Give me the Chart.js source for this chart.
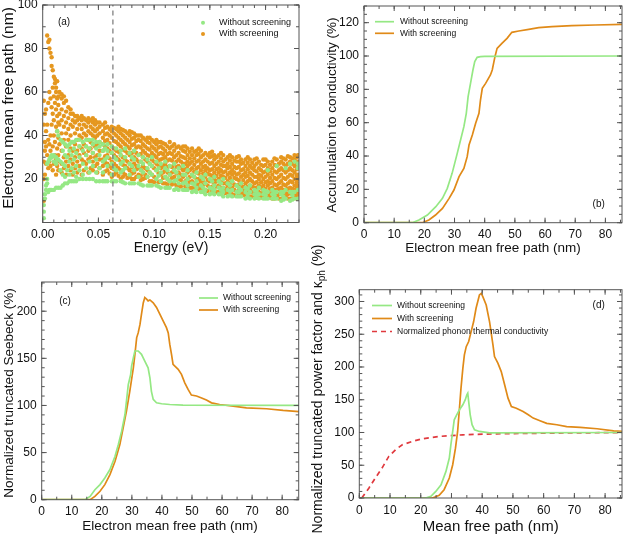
<!DOCTYPE html>
<html>
<head>
<meta charset="utf-8">
<script src="https://cdn.jsdelivr.net/npm/chart.js@4.4.1/dist/chart.umd.min.js"></script>
<style>
  html, body { margin: 0; padding: 0; background: #fff; }
  #wrap { position: relative; width: 624px; height: 536px; }
  #wrap canvas { position: absolute; left: 0; top: 0; }
</style>
</head>
<body>
<div id="wrap">
  <canvas id="panelA" width="624" height="536"></canvas>
  <canvas id="panelB" width="624" height="536"></canvas>
  <canvas id="panelC" width="624" height="536"></canvas>
  <canvas id="panelD" width="624" height="536"></canvas>
</div>
<script>
const GREEN = '#95e884';
const ORANGE = '#e5971f';
const ORANGE_LINE = '#e08a18';
const RED = '#e0393e';
const FONT = '"Liberation Sans", Arial, Helvetica, sans-serif';

const energyCut = 0.063;
const scatterWithout = [
  [0.001, [2, 5, 8]], [0.002, [11, 13]], [0.003, [15, 17]], [0.004, [18, 20, 27]],
  [0.005, [14, 28]], [0.006, [15, 29]], [0.007, [15, 30]], [0.008, [15, 30, 31]],
  [0.010, [15, 31, 28]], [0.012, [16, 30, 27]], [0.013, [42, 29]], [0.014, [16, 40, 29]],
  [0.016, [16, 38, 28, 24]], [0.018, [17, 37, 27, 22, 33]], [0.020, [18, 36, 26, 21, 31]],
  [0.022, [18, 35, 30, 24]], [0.024, [19, 36, 28, 22, 33]], [0.026, [19, 37, 31, 25]],
  [0.028, [19, 37, 29, 23, 34]], [0.030, [19, 38, 32, 26, 21]], [0.033, [20, 38, 30, 24, 35]],
  [0.036, [20, 37, 33, 27, 22]], [0.039, [20, 38, 31, 25, 35]], [0.042, [20, 38, 34, 28, 23]],
  [0.045, [20, 38, 32, 26, 36]], [0.048, [19, 37, 34, 29, 23]], [0.051, [19, 37, 31, 25, 35]],
  [0.054, [19, 36, 33, 28, 23]], [0.056, [19, 29, 34]], [0.058, [19, 36, 30, 26, 33]],
  [0.062, [19, 35, 32, 27, 22]], [0.064, [19, 30, 25]], [0.066, [19, 34, 29, 24]],
  [0.070, [19, 33, 27, 23, 31]], [0.072, [18.5, 28, 24]], [0.074, [18, 34, 30, 25]],
  [0.078, [18, 32, 27, 22]], [0.080, [18, 30, 26]], [0.082, [18, 33, 29, 24]],
  [0.086, [18, 31, 26, 21]], [0.088, [17.5, 28, 24]], [0.090, [17, 30, 27, 23]],
  [0.094, [17, 29, 25, 21]], [0.096, [17, 27, 23]], [0.098, [17, 30, 26, 22]],
  [0.102, [17, 28, 24, 20]], [0.104, [16.5, 21.5, 25]], [0.106, [16, 27, 23, 19]],
  [0.110, [16, 28, 25, 21]], [0.112, [16, 20, 24]], [0.114, [16, 26, 22, 19]],
  [0.118, [15, 27, 24, 19]], [0.120, [15.5, 19.5, 23]], [0.122, [15, 25, 21, 18]],
  [0.126, [15, 26, 22, 18]], [0.128, [15, 18.5, 22]], [0.130, [15, 24, 20, 17]],
  [0.134, [14, 22, 18]], [0.136, [14.5, 17.5, 21]], [0.138, [14, 23, 19, 16]],
  [0.142, [14, 21, 17]], [0.144, [14, 16, 20]], [0.146, [13, 22, 18, 15]],
  [0.150, [13, 20, 16]], [0.152, [13.5, 15.5, 19]], [0.154, [13, 21, 17, 15]],
  [0.158, [13, 19, 16]], [0.160, [13, 15, 18]], [0.162, [12, 20, 16, 14]],
  [0.166, [12, 18, 15]], [0.168, [12.5, 14.5, 17]], [0.170, [12, 19, 15]],
  [0.174, [12, 17, 14]], [0.176, [12, 14, 16]], [0.178, [12, 18, 15]],
  [0.182, [11, 16, 14]], [0.184, [11.5, 13, 15.5]], [0.186, [11, 17, 14]],
  [0.190, [11, 15, 13]], [0.192, [11.5, 13, 14.5]], [0.194, [11, 16, 13]],
  [0.198, [11, 15, 13]], [0.200, [11, 12.5, 14.5]], [0.202, [11, 14, 24]],
  [0.206, [11, 15, 13]], [0.208, [11, 12.5, 14]], [0.210, [11, 14, 26]],
  [0.214, [10, 14, 13]], [0.216, [10.5, 12, 14]], [0.218, [11, 15, 25]],
  [0.222, [10, 14, 27]], [0.224, [10.5, 12.5, 14]], [0.226, [11, 14, 28]],
  [0.229, [11, 15, 25, 27]]
];
const scatterWith = [
  [0.001, [10, 20, 28, 45, 56]], [0.002, [22, 33, 37, 50]], [0.003, [27, 35, 42, 52]],
  [0.004, [31, 45, 86]], [0.005, [25, 38, 55, 83]], [0.006, [28, 36, 60, 80, 84]],
  [0.007, [26, 33, 40, 57, 78]], [0.008, [30, 45, 53, 72, 76]], [0.009, [24, 35, 50, 62, 70]],
  [0.010, [27, 40, 47, 58, 67]], [0.011, [31, 37, 55, 64, 66]], [0.012, [22, 29, 44, 52, 60, 62]],
  [0.013, [26, 34, 42, 49, 57, 65]], [0.014, [24, 31, 39, 46, 54, 58]], [0.015, [28, 36, 45, 50, 60]],
  [0.017, [23, 27, 33, 41, 47, 52, 57, 59]], [0.019, [25, 30, 38, 44, 49, 55, 58]],
  [0.021, [22, 28, 35, 41, 46, 51, 56]], [0.023, [26, 31, 38, 43, 48, 53]],
  [0.025, [24, 29, 34, 40, 45, 50, 52]], [0.027, [22, 27, 33, 37, 44, 47, 50]],
  [0.029, [25, 30, 36, 41, 46, 49]], [0.031, [23, 28, 33, 38, 43, 47, 49]],
  [0.033, [26, 31, 35, 40, 45, 48]], [0.035, [22, 29, 34, 39, 43, 47, 49]],
  [0.037, [24, 28, 32, 36, 41, 45, 48]], [0.039, [27, 31, 35, 40, 44, 47]],
  [0.041, [23, 29, 33, 38, 42, 46, 48]], [0.043, [25, 30, 34, 37, 41, 44, 47]],
  [0.045, [24, 28, 32, 36, 40, 43, 46, 48]], [0.047, [26, 30, 35, 39, 42, 45, 47]],
  [0.049, [23, 27, 31, 36, 40, 43, 46]], [0.051, [25, 29, 33, 37, 41, 44, 46]],
  [0.054, [22, 26, 29, 33, 36, 39, 42, 45]], [0.056, [23.5, 27.5, 30.5, 35, 37.5, 40.5, 43.5, 46]],
  [0.058, [24, 27, 31, 34, 38, 41, 44]], [0.060, [22.5, 26, 29.5, 33, 36.5, 40, 43]],
  [0.062, [21, 25, 28, 32, 35, 39, 42, 44]], [0.064, [22, 24.5, 27, 31, 34, 37.5, 41, 43.5]],
  [0.066, [23, 26, 30, 33, 37, 40, 43]], [0.068, [21.5, 25, 29, 32.5, 36, 39, 42, 44]],
  [0.070, [20, 24, 28, 31, 35, 38, 41, 43]], [0.072, [21, 23, 26.5, 30, 33.5, 37, 40, 42.5]],
  [0.074, [22, 26, 29, 33, 36, 39, 42]], [0.076, [20.5, 25, 28, 32, 35, 38, 41]],
  [0.078, [21, 24, 27, 31, 34, 37, 40, 42]], [0.080, [20, 22.5, 25.5, 29, 32, 35.5, 38.5, 41.5]],
  [0.082, [20, 23, 27, 30, 33, 36, 39, 41]], [0.084, [21, 24.5, 26, 29, 32, 34.5, 37.5, 40]],
  [0.086, [22, 25, 28, 31, 35, 38, 40]], [0.088, [19.5, 21.5, 24.5, 28, 31.5, 34.5, 37.5, 40]],
  [0.090, [20, 23, 26, 30, 33, 36, 39]], [0.092, [20.5, 22, 25, 29, 32, 35, 38]],
  [0.094, [21, 24, 28, 31, 34, 37, 39]], [0.096, [19, 23, 27, 30.5, 33.5, 36.5, 39]],
  [0.098, [19, 22, 26, 29, 32, 35, 38]], [0.100, [18.5, 21, 25, 28, 31, 34, 37]],
  [0.102, [20, 24, 27, 30, 33, 36, 38]], [0.104, [18.5, 22.5, 26, 28.5, 31.5, 34.5, 37]],
  [0.106, [19, 22, 25, 29, 32, 35, 37]], [0.108, [18, 20.5, 23, 26, 29.5, 31.5, 34, 36.5]],
  [0.110, [18, 21, 24, 27, 30, 33, 36]], [0.112, [17.5, 20, 23, 25.5, 28.5, 31.5, 35]],
  [0.114, [19, 22, 26, 29, 32, 34, 37]], [0.116, [17.5, 20.5, 23, 25.5, 28.5, 31.5, 35]],
  [0.118, [18, 21, 24, 27, 30, 33, 36]], [0.120, [17, 19.5, 22.5, 25.5, 28, 31, 34.5]],
  [0.122, [17, 20, 23, 26, 29, 32, 35]], [0.124, [16.5, 19.5, 22, 25, 28, 30.5, 34]],
  [0.126, [18, 21, 24, 27, 30, 33, 35]], [0.128, [16.5, 19, 22, 24.5, 27, 29.5, 32.5, 35]],
  [0.130, [17, 20, 23, 26, 28, 31, 34]], [0.132, [16, 18.5, 21, 24, 27, 29.5, 32.5]],
  [0.134, [16, 19, 22, 25, 28, 31, 34]], [0.136, [15.5, 18, 21, 23.5, 26.5, 29.5, 32.5]],
  [0.138, [17, 20, 23, 25, 28, 31, 33]], [0.140, [15.5, 17.5, 20, 22.5, 25.5, 28.5, 31.5, 34]],
  [0.142, [16, 19, 21, 24, 27, 30, 33]], [0.144, [15, 17.5, 19.5, 22.5, 25.5, 28, 31]],
  [0.146, [15, 18, 21, 24, 26, 29, 32]], [0.148, [14.5, 17, 19.5, 22.5, 25, 28, 31]],
  [0.150, [16, 19, 22, 24, 27, 30, 32]], [0.152, [14.5, 16.5, 19, 21.5, 24.5, 27.5, 30.5, 32.5]],
  [0.154, [15, 18, 20, 23, 26, 29, 31]], [0.156, [14, 16.5, 19, 21.5, 24.5, 27, 30]],
  [0.158, [14, 17, 20, 23, 25, 28, 31]], [0.160, [13.5, 16, 18.5, 21.5, 24, 26.5, 29.5, 32]],
  [0.162, [15, 18, 21, 23, 26, 28, 31]], [0.164, [13.5, 15.5, 18, 20.5, 23.5, 26, 29]],
  [0.166, [14, 17, 19, 22, 25, 27, 30]], [0.168, [13, 15.5, 17.5, 20.5, 23, 25.5, 28.5, 31]],
  [0.170, [13, 16, 19, 22, 24, 27, 30]], [0.172, [12.5, 15, 17.5, 20.5, 23, 25.5, 28.5]],
  [0.174, [14, 17, 20, 22, 25, 28, 30]], [0.176, [12.5, 15, 17.5, 19.5, 22.5, 25.5, 28, 30.5]],
  [0.178, [13, 16, 18, 21, 24, 27, 29]], [0.180, [12.5, 14.5, 16.5, 19.5, 22, 24.5, 27.5]],
  [0.182, [13, 15, 18, 21, 23, 26, 29]], [0.184, [12, 14, 16.5, 19, 21.5, 24.5, 27.5, 30]],
  [0.186, [12, 15, 17, 20, 23, 26, 29]], [0.188, [12, 14, 16.5, 19, 22, 25, 27.5]],
  [0.190, [13, 16, 18, 21, 24, 26, 29]], [0.192, [11.5, 13.5, 16, 18.5, 21, 23.5, 27, 29.5]],
  [0.194, [12, 14, 17, 20, 22, 25, 28]], [0.196, [11.5, 13.5, 16, 18.5, 21.5, 24, 26.5]],
  [0.198, [12, 15, 17, 20, 23, 26, 29]], [0.200, [11.5, 13.5, 15.5, 18.5, 21, 23.5, 26.5, 29]],
  [0.202, [12, 14, 17, 19, 22, 25, 28]], [0.204, [11.5, 13, 15.5, 18, 20.5, 23.5, 26.5]],
  [0.206, [11, 14, 16, 19, 22, 25, 28]], [0.208, [11, 13, 15, 17.5, 20.5, 23.5, 26.5, 29.5]],
  [0.210, [12, 15, 17, 20, 23, 26, 29]], [0.212, [11, 13, 15.5, 18, 21, 24, 27]],
  [0.214, [11, 14, 16, 19, 22, 25, 28, 30]], [0.216, [11, 13, 15, 17.5, 20.5, 24, 27, 29.5]],
  [0.218, [12, 14, 17, 20, 23, 26, 29]], [0.220, [11, 13, 15.5, 18, 21, 24, 27, 30.5]],
  [0.222, [11, 14, 16, 19, 22, 25, 28, 30]], [0.224, [11, 13, 15.5, 18.5, 21.5, 24, 27, 29.5]],
  [0.226, [12, 15, 17, 20, 23, 26, 29, 31]], [0.228, [11, 13, 16, 18.5, 21.5, 24.5, 27, 30]],
  [0.229, [12, 14, 17, 20, 22, 25, 28, 31]]
];

// (b) accumulation to conductivity (%)
const mfpAccWithout = [0, 16, 18.2, 21, 23.8, 26, 27.6, 29.2, 30.9, 32, 33.1, 33.9, 34.5, 35.3, 36.1, 36.7, 37.5, 38.6, 40, 86];
const accWithout = [0, 0, 1.6, 4.6, 9.6, 14.6, 20.6, 29.6, 41.6, 49.6, 57.6, 65.6, 75.6, 83.6, 91.6, 96.6, 99.2, 99.6, 99.8, 100];
const mfpAccWith = [0, 19.3, 21.5, 23.7, 26, 28.2, 29.8, 31.5, 33.1, 34.2, 34.8, 35.9, 37, 38.1, 38.6, 39.2, 40.3, 41.9, 42.5, 43.4, 44.1, 45.7, 47.4, 49, 51.3, 54.6, 57.9, 62.3, 68.9, 76.6, 86];
const accWith = [0, 0, 1.6, 4.6, 8.6, 14.6, 19.6, 27.6, 32.6, 39.6, 46.6, 52.6, 59.6, 65.6, 73.6, 80.6, 83.6, 88.6, 91.6, 99.6, 104.6, 107.6, 110.6, 114.2, 115, 116, 117, 117.6, 118.2, 118.6, 119];

// (c) normalized truncated Seebeck (%)
const mfpSeebWithout = [0, 14.4, 16.1, 17.7, 19.4, 21, 22.7, 24.4, 25.5, 26.6, 27.7, 28.2, 28.8, 29.6, 29.9, 30.5, 31, 32.1, 33.2, 34.3, 35.4, 36, 36.5, 37.1, 38.2, 39.9, 42.6, 47, 86];
const seebWithout = [0, 0, 3.5, 10.6, 16, 23, 32, 46, 58.5, 72.7, 90.4, 104.6, 122, 133, 141.8, 150.7, 157.8, 157.8, 154.3, 147, 140, 129.4, 115, 106.4, 102.8, 101.8, 101, 100.4, 100];
const mfpSeebWith = [0, 16.1, 17.7, 19.4, 21, 22.7, 24.4, 26, 27.1, 28.2, 29.3, 30.5, 31, 31.6, 32.1, 32.7, 33.2, 33.8, 34.3, 34.9, 35.4, 36, 37.1, 38.2, 39.3, 40.4, 41.5, 42.1, 42.6, 43.2, 43.7, 45.4, 46.5, 47.6, 48.7, 49.8, 51.5, 53.2, 54.8, 56.5, 59.2, 63.7, 68.1, 74.8, 80.3, 85.8];
const seebWith = [0, 0, 3.5, 8.9, 16, 26.6, 40.8, 58.5, 76.2, 94, 115, 140, 154, 172, 177, 186, 196.8, 209, 214.5, 212.8, 211, 212, 209, 204, 196.8, 189.7, 182.6, 177, 165, 154, 143.6, 138.3, 133, 124, 117, 111, 110, 108, 105.7, 102.8, 101, 99.3, 97.5, 96.5, 94.7, 93.3];

// (d) normalized truncated power factor and phonon kappa (%)
const mfpPfWithout = [0, 21.6, 23.3, 24.9, 26.6, 28.2, 29.3, 29.8, 30.4, 30.9, 31.7, 32.6, 33.7, 34.5, 35, 35.3, 35.6, 36.1, 36.7, 37.5, 39.1, 42.4, 86];
const pfWithout = [0, 0, 2.5, 10, 20, 40.6, 61, 81, 101.6, 119.4, 127, 134.7, 142.3, 150, 157.5, 160, 147, 127, 112, 104, 101.6, 99.5, 100];
const mfpPfWith = [0, 23.8, 26, 27.6, 29.3, 30.4, 31.3, 32, 32.6, 33.1, 33.7, 34.2, 34.8, 35.6, 36.4, 37.2, 38, 39.1, 39.7, 40.2, 41.3, 42.4, 43.5, 44, 45.1, 46.2, 47.3, 48.4, 49.5, 51.1, 53.3, 55, 56.6, 58.8, 61, 64.3, 67.5, 71.9, 77.4, 82.8, 86.7];
const pfWith = [0, 0, 4, 12.7, 30.5, 50.8, 76, 101.6, 137, 167.7, 198, 218.5, 231, 238.8, 254, 269, 289.6, 310, 312.5, 307.4, 294.7, 269, 233.7, 216, 205.8, 193, 172.8, 152.4, 139.7, 137, 132, 127, 122, 118, 114, 111.8, 109, 107.7, 105.7, 102.6, 101.6];
const mfpKph = [0.8, 3.1, 5.2, 7.4, 9.6, 11.8, 14, 17.3, 20.5, 26, 33.7, 44.6, 61, 86.7];
const kph = [0, 15, 30.5, 45.7, 63.5, 73.7, 81.3, 86.4, 90.4, 94, 96.5, 98, 99, 100];

const pairs = (xs, ys) => xs.map((v, i) => ({x: v, y: ys[i]}));
const columns = cols => cols.flatMap(([e, vs]) => vs.map(v => ({x: e, y: v})));

Chart.defaults.font.family = FONT;
Chart.defaults.color = '#111';
Chart.defaults.animation = false;

const YW = 40, XH = 20;

function axes(spec) {
  return {
    x: {
      type: 'linear', position: 'bottom', min: 0, max: spec.xMax,
      grid: {display: false, drawTicks: false}, border: {display: false},
      ticks: {stepSize: spec.xStep, includeBounds: false, autoSkip: false, maxRotation: 0,
              padding: 5, font: {size: 12}, callback: spec.xFmt || (v => v)},
      afterFit(s) { s.height = XH; s.paddingLeft = 0; s.paddingRight = 0; }
    },
    y: {
      type: 'linear', position: 'left', min: 0, max: spec.yMax,
      grid: {display: false, drawTicks: false}, border: {display: false},
      ticks: {stepSize: spec.yStep, includeBounds: false, autoSkip: false,
              padding: 5, font: {size: 12}, callback: spec.yFmt || (v => v)},
      afterFit(s) { s.width = YW; s.paddingTop = 0; s.paddingBottom = 0; }
    }
  };
}

function padFor(area) {
  return {left: area[0] - YW, top: area[1], right: 624 - area[2], bottom: 536 - area[3] - XH};
}

function rotText(ctx, text, x, y, size) {
  ctx.save();
  ctx.translate(x, y);
  ctx.rotate(-Math.PI / 2);
  ctx.font = size + 'px ' + FONT;
  ctx.textAlign = 'center';
  ctx.textBaseline = 'middle';
  ctx.fillText(text, 0, 0);
  ctx.restore();
}

function frame(spec) {
  return {
    id: 'frame',
    afterDraw(chart) {
      const {ctx, chartArea: a} = chart;
      const sx = chart.scales.x, sy = chart.scales.y;
      ctx.save();
      ctx.strokeStyle = '#555';
      ctx.lineWidth = 1;
      ctx.strokeRect(a.left, a.top, a.right - a.left, a.bottom - a.top);
      ctx.beginPath();
      const xTicks = (step, len) => {
        for (let i = 0; i * step <= sx.max + 1e-9; i++) {
          const p = sx.getPixelForValue(i * step);
          ctx.moveTo(p, a.bottom); ctx.lineTo(p, a.bottom - len);
          ctx.moveTo(p, a.top); ctx.lineTo(p, a.top + len);
        }
      };
      const yTicks = (step, len) => {
        for (let i = 0; i * step <= sy.max + 1e-9; i++) {
          const p = sy.getPixelForValue(i * step);
          ctx.moveTo(a.left, p); ctx.lineTo(a.left + len, p);
          ctx.moveTo(a.right, p); ctx.lineTo(a.right - len, p);
        }
      };
      xTicks(spec.xStep, 5); xTicks(spec.xMinor, 3);
      yTicks(spec.yStep, 5); yTicks(spec.yMinor, 3);
      ctx.stroke();

      // legend
      ctx.font = spec.legend.size + 'px ' + FONT;
      ctx.textBaseline = 'middle';
      ctx.textAlign = 'left';
      spec.legend.rows.forEach(r => {
        if (r.kind === 'dot') {
          ctx.fillStyle = r.color;
          ctx.beginPath(); ctx.arc(spec.legend.x0 + 2, r.y, 2, 0, Math.PI * 2); ctx.fill();
        } else {
          ctx.strokeStyle = r.color;
          ctx.lineWidth = 1.7;
          ctx.setLineDash(r.kind === 'dash' ? [5, 4] : []);
          ctx.beginPath(); ctx.moveTo(spec.legend.x0, r.y); ctx.lineTo(spec.legend.x1, r.y); ctx.stroke();
          ctx.setLineDash([]);
        }
        ctx.fillStyle = '#111';
        ctx.fillText(r.label, spec.legend.tx, r.y);
      });

      // panel tag
      ctx.font = '10px ' + FONT;
      ctx.textAlign = 'center';
      ctx.fillText(spec.tag[0], spec.tag[1], spec.tag[2]);

      // axis titles
      ctx.font = spec.xTitle[3] + 'px ' + FONT;
      ctx.fillText(spec.xTitle[0], spec.xTitle[1], spec.xTitle[2]);
      if (spec.yTitle) rotText(ctx, spec.yTitle[0], spec.yTitle[1], spec.yTitle[2], spec.yTitle[3]);
      if (spec.yTitleSub) {
        const [pre, sub, post, x, y, size] = spec.yTitleSub;
        ctx.translate(x, y);
        ctx.rotate(-Math.PI / 2);
        ctx.textAlign = 'left';
        ctx.font = size + 'px ' + FONT;
        const w1 = ctx.measureText(pre).width;
        const w3 = ctx.measureText(post).width;
        ctx.font = (size * 0.72) + 'px ' + FONT;
        const w2 = ctx.measureText(sub).width;
        let cx = -(w1 + w2 + w3) / 2;
        ctx.font = size + 'px ' + FONT;
        ctx.fillText(pre, cx, 0); cx += w1;
        ctx.font = (size * 0.72) + 'px ' + FONT;
        ctx.fillText(sub, cx, size * 0.3); cx += w2;
        ctx.font = size + 'px ' + FONT;
        ctx.fillText(post, cx, 0);
      }
      ctx.restore();
    }
  };
}

function lineSet(label, xs, ys, color, dash) {
  return {label, data: pairs(xs, ys), borderColor: color, borderWidth: 1.7, borderDash: dash || [],
          pointRadius: 0, showLine: true, fill: false, tension: 0};
}

function makeChart(id, area, spec, datasets) {
  return new Chart(document.getElementById(id), {
    type: 'scatter',
    data: {datasets},
    options: {
      responsive: false,
      layout: {padding: padFor(area)},
      plugins: {legend: {display: false}, tooltip: {enabled: false}},
      scales: axes(spec)
    },
    plugins: [frame(spec)]
  });
}

// (a)
makeChart('panelA', [42.7, 5, 299, 222.5], {
  xMax: 0.23, xStep: 0.05, xMinor: 0.01, xFmt: v => v.toFixed(2),
  yMax: 100, yStep: 20, yMinor: 10, yFmt: v => (v === 0 ? '' : v),
  legend: {x0: 201, x1: 205, tx: 219, size: 9, rows: [
    {kind: 'dot', color: GREEN, y: 22.7, label: 'Without screening'},
    {kind: 'dot', color: ORANGE, y: 34, label: 'With screening'}]},
  tag: ['(a)', 64, 22.7],
  xTitle: ['Energy (eV)', 171, 248, 14],
  yTitle: ['Electron mean free path (nm)', 9, 108, 15.5]
}, [
  {label: 'cut', data: [{x: energyCut, y: 0}, {x: energyCut, y: 100}], borderColor: '#777',
   borderWidth: 1.2, borderDash: [5, 4], pointRadius: 0, showLine: true},
  {label: 'Without screening', data: columns(scatterWithout), backgroundColor: GREEN,
   pointRadius: 2.2, pointBorderWidth: 0, borderWidth: 0},
  {label: 'With screening', data: columns(scatterWith), backgroundColor: ORANGE,
   pointRadius: 2.2, pointBorderWidth: 0, borderWidth: 0}
]);

// (b)
makeChart('panelB', [364, 6, 622, 222.7], {
  xMax: 85.5, xStep: 10, xMinor: 5,
  yMax: 130, yStep: 20, yMinor: 5,
  legend: {x0: 375, x1: 394, tx: 400, size: 8.5, rows: [
    {kind: 'line', color: GREEN, y: 21.7, label: 'Without screening'},
    {kind: 'line', color: ORANGE_LINE, y: 33.3, label: 'With screening'}]},
  tag: ['(b)', 598.7, 204],
  xTitle: ['Electron mean free path (nm)', 493, 248, 13.5],
  yTitle: ['Accumulation to conductivity (%)', 332, 115, 13.5]
}, [
  lineSet('Without screening', mfpAccWithout, accWithout, GREEN),
  lineSet('With screening', mfpAccWith, accWith, ORANGE_LINE)
]);

// (c)
makeChart('panelC', [41.7, 282, 298.7, 499.7], {
  xMax: 85.5, xStep: 10, xMinor: 5,
  yMax: 231, yStep: 50, yMinor: 10,
  legend: {x0: 199, x1: 218, tx: 223, size: 8.5, rows: [
    {kind: 'line', color: GREEN, y: 298, label: 'Without screening'},
    {kind: 'line', color: ORANGE_LINE, y: 310, label: 'With screening'}]},
  tag: ['(c)', 65, 301],
  xTitle: ['Electron mean free path (nm)', 170, 526, 13.5],
  yTitle: ['Normalized truncated Seebeck (%)', 9, 393, 13.5]
}, [
  lineSet('Without screening', mfpSeebWithout, seebWithout, GREEN),
  lineSet('With screening', mfpSeebWith, seebWith, ORANGE_LINE)
]);

// (d)
makeChart('panelD', [359.3, 289.7, 622, 498], {
  xMax: 85.5, xStep: 10, xMinor: 5,
  yMax: 318, yStep: 50, yMinor: 10,
  legend: {x0: 372, x1: 392, tx: 397, size: 8.5, rows: [
    {kind: 'line', color: GREEN, y: 305.5, label: 'Without screening'},
    {kind: 'line', color: ORANGE_LINE, y: 318.5, label: 'With screening'},
    {kind: 'dash', color: RED, y: 331.5, label: 'Normalized phonon thermal conductivity'}]},
  tag: ['(d)', 598.7, 305.3],
  xTitle: ['Mean free path (nm)', 490.7, 527, 15],
  yTitleSub: ['Normalized truncated power factor and \u03ba', 'ph', ' (%)', 318, 389, 14]
}, [
  lineSet('Without screening', mfpPfWithout, pfWithout, GREEN),
  lineSet('With screening', mfpPfWith, pfWith, ORANGE_LINE),
  lineSet('Normalized phonon thermal conductivity', mfpKph, kph, RED, [5, 4])
]);
</script>
</body>
</html>
